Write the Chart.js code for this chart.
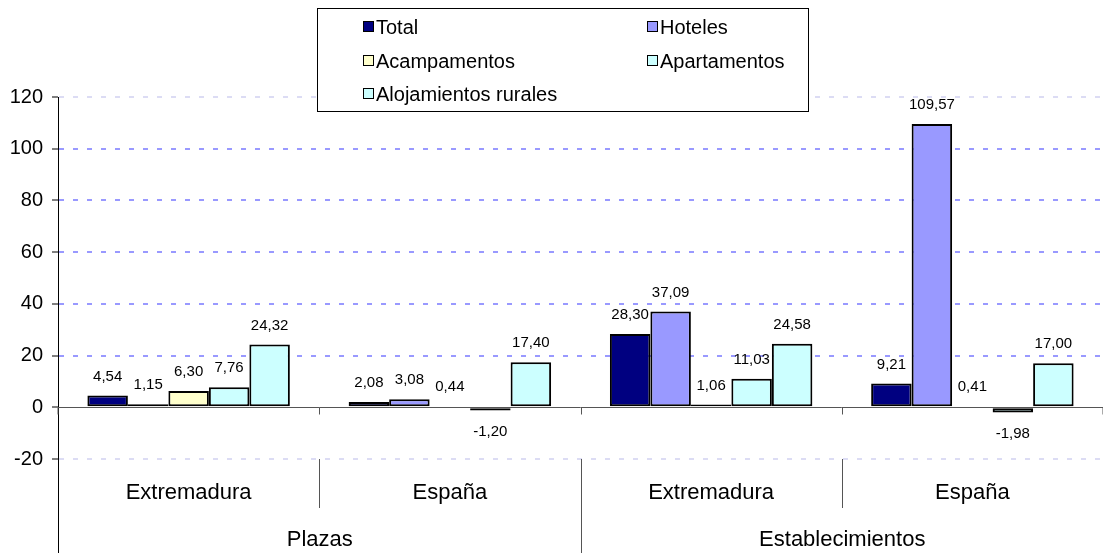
<!DOCTYPE html>
<html>
<head>
<meta charset="utf-8">
<title>Plazas y establecimientos</title>
<script src="https://cdn.jsdelivr.net/npm/chart.js@4"></script>
<style>
  html, body { margin: 0; padding: 0; background: #fff; }
  canvas { display: block; }
</style>
</head>
<body>
<canvas id="chart" width="1103" height="553"></canvas>
<script>
// data
const categories = ['Extremadura', 'España', 'Extremadura', 'España'];
const groups = ['Plazas', 'Establecimientos'];
const seriesNames = ['Total', 'Hoteles', 'Acampamentos', 'Apartamentos', 'Alojamientos rurales'];
const total = [4.54, 2.08, 28.30, 9.21];
const hoteles = [1.15, 3.08, 37.09, 109.57];
const acampamentos = [6.30, 0.44, 1.06, 0.41];
const apartamentos = [7.76, -1.20, 11.03, -1.98];
const rurales = [24.32, 17.40, 24.58, 17.00];
const yMin = -20, yMax = 120, yStep = 20;

const colors = ['#000080', '#9999ff', '#ffffcc', '#ccffff', '#ccffff'];
const FONT = '"Liberation Sans", Arial, sans-serif';

const fmt = v => v.toFixed(2).replace('.', ',');

// bar labels, zero line, two-level category axis
const extras = {
    id: 'extras',
    beforeDatasetsDraw(chart) {
        const ctx = chart.ctx;
        const a = chart.chartArea;
        const y0 = Math.round(chart.scales.y.getPixelForValue(0)) + 0.5;
        ctx.save();
        ctx.strokeStyle = '#555';
        ctx.lineWidth = 1;
        ctx.beginPath();
        ctx.moveTo(a.left, y0);
        ctx.lineTo(a.right, y0);
        ctx.stroke();
        ctx.restore();
    },
    afterDatasetsDraw(chart) {
        const ctx = chart.ctx;
        const a = chart.chartArea;
        const x = chart.scales.x;
        const y0 = Math.round(chart.scales.y.getPixelForValue(0)) + 0.5;

        // value labels
        ctx.save();
        ctx.fillStyle = '#000';
        ctx.font = '15px ' + FONT;
        ctx.textAlign = 'center';
        ctx.textBaseline = 'middle';
        chart.data.datasets.forEach((ds, di) => {
            chart.getDatasetMeta(di).data.forEach((el, i) => {
                const v = ds.data[i];
                const ty = v >= 0 ? el.y - 19 : el.y + 21;
                ctx.fillText(fmt(v), el.x, ty);
            });
        });
        ctx.restore();

        // boundaries between categories
        const n = categories.length;
        const bounds = [a.left];
        for (let i = 0; i < n - 1; i++) {
            bounds.push(Math.round((x.getPixelForValue(i) + x.getPixelForValue(i + 1)) / 2) + 0.5);
        }
        bounds.push(a.right);

        ctx.save();
        ctx.strokeStyle = '#555';
        ctx.lineWidth = 1;
        ctx.beginPath();
        bounds.forEach(bx => {
            ctx.moveTo(bx, y0);
            ctx.lineTo(bx, y0 + 7);
        });
        ctx.stroke();

        // separators in the label area
        const h = chart.height;
        ctx.beginPath();
        for (let i = 1; i < n; i++) {
            const outer = i % 2 === 0;
            ctx.moveTo(bounds[i], a.bottom);
            ctx.lineTo(bounds[i], outer ? h : a.bottom + 49);
        }
        ctx.stroke();
        ctx.strokeStyle = '#000';
        ctx.beginPath();
        ctx.moveTo(a.left + 0.5, a.bottom);
        ctx.lineTo(a.left + 0.5, h);
        ctx.stroke();

        ctx.fillStyle = '#000';
        ctx.font = '22px ' + FONT;
        ctx.textAlign = 'center';
        ctx.textBaseline = 'middle';
        categories.forEach((c, i) => {
            ctx.fillText(c, x.getPixelForValue(i), a.bottom + 34);
        });
        groups.forEach((g, gi) => {
            const cx = (bounds[gi * 2] + bounds[gi * 2 + 2]) / 2;
            ctx.fillText(g, cx, a.bottom + 81);
        });
        ctx.restore();
    },
    afterDraw(chart) {
        // legend box, two columns
        const ctx = chart.ctx;
        const bx = 317.5, by = 8.5, bw = 491, bh = 103;
        ctx.save();
        ctx.fillStyle = '#fff';
        ctx.fillRect(bx, by, bw, bh);
        ctx.strokeStyle = '#000';
        ctx.lineWidth = 1;
        ctx.strokeRect(bx, by, bw, bh);
        ctx.font = '20px ' + FONT;
        ctx.textBaseline = 'middle';
        ctx.textAlign = 'left';
        const cols = [363, 647];
        const rows = [27, 61, 94];
        seriesNames.forEach((name, i) => {
            const lx = cols[i % 2], ly = rows[Math.floor(i / 2)];
            ctx.fillStyle = colors[i];
            ctx.fillRect(lx, ly - 5, 10, 10);
            ctx.strokeStyle = '#000';
            ctx.strokeRect(lx + 0.5, ly - 5.5, 10, 10);
            ctx.fillStyle = '#000';
            ctx.fillText(name, lx + 13, ly + 1);
        });
        ctx.restore();
    }
};

const seriesValues = [total, hoteles, acampamentos, apartamentos, rurales];

const gridColor = c => {
    if (!c.tick) return '#9999ff';
    if (c.tick.value === 0) return 'rgba(0,0,0,0)';
    if (c.tick.value === yMax || c.tick.value === yMin) return '#dcdcf4';
    return '#9999ff';
};

const chart = new Chart(document.getElementById('chart').getContext('2d'), {
    type: 'bar',
    data: {
        labels: categories,
        datasets: seriesNames.map((name, i) => ({
            label: name,
            data: seriesValues[i],
            backgroundColor: colors[i],
            borderColor: '#000',
            borderWidth: 2,
            borderSkipped: false,
            categoryPercentage: 0.775,
            barPercentage: 1.0
        }))
    },
    options: {
        responsive: false,
        animation: false,
        layout: { padding: { top: 97, bottom: 94, left: 0, right: 0 } },
        plugins: {
            legend: { display: false },
            tooltip: { enabled: false }
        },
        scales: {
            x: { display: false },
            y: {
                min: yMin,
                max: yMax,
                ticks: {
                    stepSize: yStep,
                    color: '#000',
                    padding: 9,
                    font: { family: FONT, size: 20 }
                },
                grid: {
                    color: gridColor,
                    lineWidth: 2,
                    tickColor: '#000',
                    tickWidth: 1,
                    tickLength: 6
                },
                border: { color: '#000', width: 1, dash: [5, 9] },
                afterFit: s => { s.width = 58; }
            }
        }
    },
    plugins: [extras]
});
</script>
</body>
</html>
